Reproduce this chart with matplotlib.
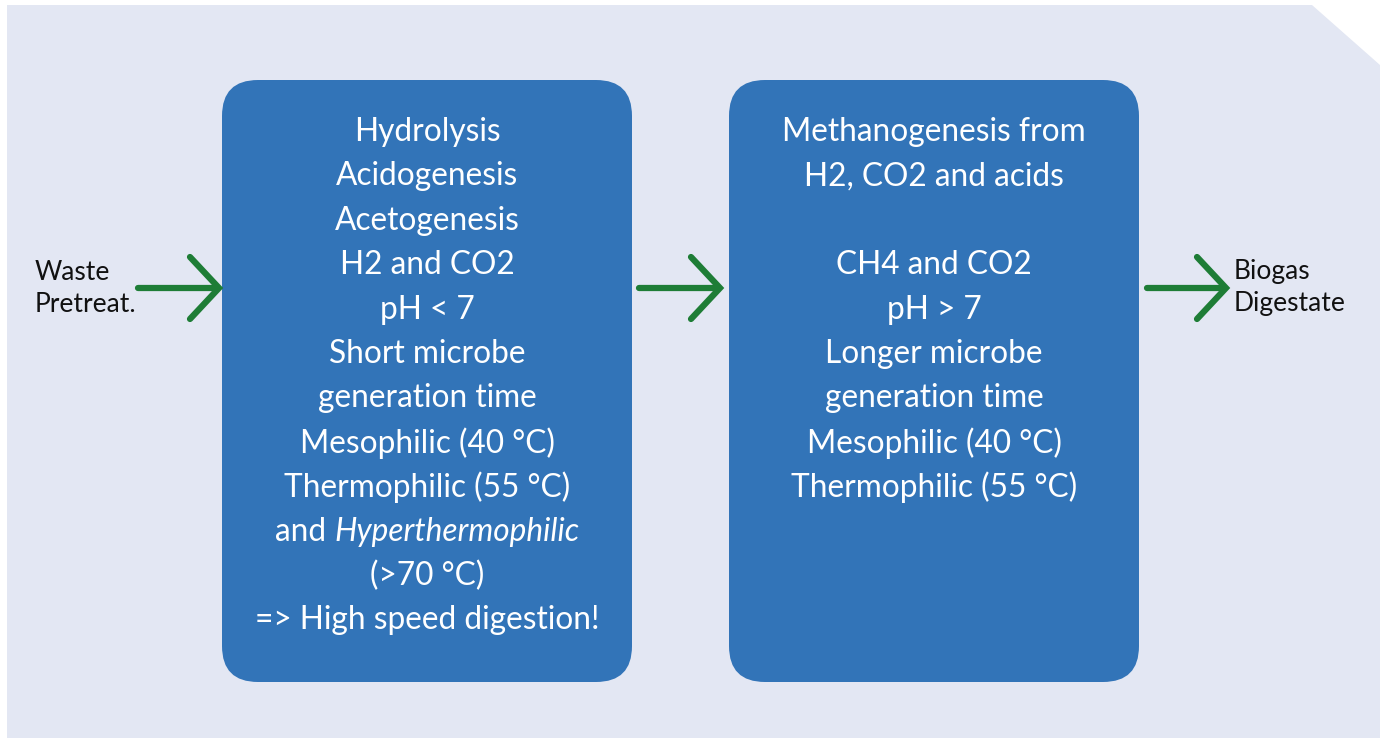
import matplotlib.pyplot as plt
from matplotlib.patches import FancyBboxPatch, Polygon

W, H = 1380, 738

# text content of the two stages
stage1_lines = ["Hydrolysis", "Acidogenesis", "Acetogenesis", "H2 and CO2", "pH < 7",
                "Short microbe", "generation time", "Mesophilic (40 °C)",
                "Thermophilic (55 °C)", None, "(>70 °C)", "=> High speed digestion!"]
stage2_lines = ["Methanogenesis from", "H2, CO2 and acids", "", "CH4 and CO2", "pH > 7",
                "Longer microbe", "generation time", "Mesophilic (40 °C)",
                "Thermophilic (55 °C)"]
input_labels = ["Waste", "Pretreat."]
output_labels = ["Biogas", "Digestate"]

panel_col = "#e3e7f3"
box_col = "#3274b8"
arrow_col = "#1e7d36"
font = "Lato"

fig = plt.figure(figsize=(W / 100, H / 100), dpi=100)
ax = fig.add_axes([0, 0, 1, 1])
ax.set_xlim(0, W)
ax.set_ylim(H, 0)
ax.axis("off")

# background panel with clipped top-right corner
ax.add_patch(Polygon([(7, 5), (1312, 5), (1380, 65), (1380, 738), (7, 738)],
                     closed=True, facecolor=panel_col, edgecolor="none"))

# the two stage boxes
for x0 in (222, 729):
    ax.add_patch(FancyBboxPatch((x0 + 36, 80 + 36), 410 - 72, 602 - 72,
                                boxstyle="round,pad=36", facecolor=box_col,
                                edgecolor="none"))

def arrow(x0, x1, y):
    ax.plot([x0, x1 - 2], [y, y], color=arrow_col, lw=4.5, solid_capstyle="round")
    ax.plot([x1 - 29, x1, x1 - 29], [y - 31, y, y + 31], color=arrow_col, lw=4.5,
            solid_capstyle="round", solid_joinstyle="miter")

arrow(138, 219, 288)
arrow(639, 720, 288)
arrow(1147, 1226, 288)

fs = 22.8
y0, dy = 132, 44.4
for i, s in enumerate(stage1_lines):
    if s is None:
        continue
    ax.text(427, y0 + i * dy, s, ha="center", va="center", color="white",
            fontsize=fs, family=font)
for i, s in enumerate(stage2_lines):
    ax.text(934, y0 + i * dy, s, ha="center", va="center", color="white",
            fontsize=fs, family=font)

# mixed-style line: "and Hyperthermophilic"
fig.canvas.draw()
r = fig.canvas.get_renderer()
ya = y0 + 9 * dy
t1 = ax.text(0, ya, "and ", ha="left", va="center", color="white", fontsize=fs, family=font)
t2 = ax.text(0, ya, "Hyperthermophilic", ha="left", va="center", color="white",
             fontsize=fs, family=font, style="italic")
w1 = t1.get_window_extent(r).width
w2 = t2.get_window_extent(r).width
start = 427 - (w1 + w2) / 2
t1.set_x(start)
t2.set_x(start + w1)

for i, s in enumerate(input_labels):
    ax.text(35, 273 + i * 31, s, ha="left", va="center", color="#111111",
            fontsize=19, family=font)
for i, s in enumerate(output_labels):
    ax.text(1234, 272 + i * 32, s, ha="left", va="center", color="#111111",
            fontsize=19, family=font)

fig.savefig("out.png", dpi=100, facecolor="white")
